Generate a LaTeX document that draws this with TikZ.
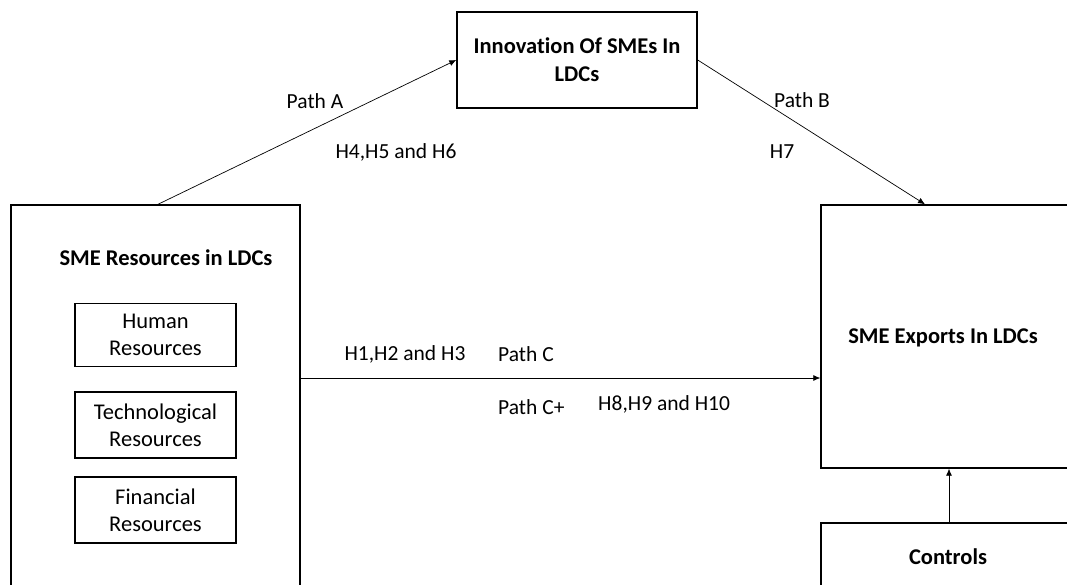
\documentclass[tikz,border=0pt]{standalone}
\usepackage{fontspec}
\setmainfont{Carlito}[Ligatures=NoCommon]
\usetikzlibrary{arrows.meta}
\begin{document}
\begin{tikzpicture}[x=1pt,y=-1pt,
  box/.style={draw=black,line width=1.4pt,rectangle,inner sep=0pt},
  sub/.style={draw=black,line width=1.2pt,rectangle,inner sep=0pt,minimum width=161pt,minimum height=63pt,align=center,font=\fontsize{22.5}{27}\selectfont},
  lbl/.style={font=\fontsize{21.5}{26}\selectfont,inner sep=0pt},
  ttl/.style={font=\fontsize{22.5}{28}\selectfont\bfseries,inner sep=0pt,align=center},
  conn/.style={draw=black,line width=0.7pt,-{Latex[length=7pt,width=6pt]}}]
\useasboundingbox[fill=white] (0,0) rectangle (1067,585);
\clip (0,0) rectangle (1067,585);
% boxes
\node[box,minimum width=289pt,minimum height=400pt] (left) at (155.5,405) {};
\node[ttl] (lefttitle) at (166,258) {SME Resources in LDCs};
\node[sub] (human) at (155.5,335) {Human\\Resources};
\node[sub,minimum height=66pt] (tech) at (155.5,425) {Technological\\Resources};
\node[sub,minimum height=66pt] (fin) at (155.5,510) {Financial\\Resources};
\node[box,minimum width=240pt,minimum height=96pt,ttl] (innov) at (577,60) {Innovation Of SMEs In\\LDCs};
\node[box,minimum width=269pt,minimum height=263pt] (exports) at (955.5,336.5) {};
\node[ttl] (exptitle) at (943,338) {SME Exports In LDCs};
\node[box,minimum width=269pt,minimum height=100pt] (controls) at (955.5,573) {};
\node[ttl] (ctrltitle) at (948,557) {Controls};
% connectors
\draw[conn] (left.north -| 158,0) -- (innov.west);
\draw[conn] (innov.east) -- (exports.north -| 925,0);
\draw[conn] (left.east |- 0,378) -- (exports.west |- 0,378);
\draw[conn] (controls.north -| 949,0) -- (exports.south -| 949,0);
% labels
\node[lbl] (pa) at (315,101) {Path A};
\node[lbl] (h456) at (396,152) {H4,H5 and H6};
\node[lbl] (pb) at (802,100) {Path B};
\node[lbl] (h7) at (782,152) {H7};
\node[lbl] (h123) at (405,354) {H1,H2 and H3};
\node[lbl,anchor=west] (pc) at (498,354) {Path C};
\node[lbl,anchor=west] (pcp) at (498,407) {Path C+};
\node[lbl,anchor=west] (h8) at (598,404) {H8,H9 and H10};
\end{tikzpicture}
\end{document}
